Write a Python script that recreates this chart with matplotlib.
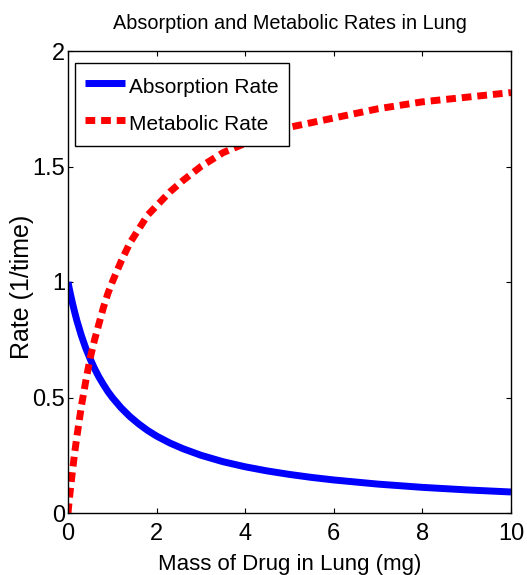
import matplotlib
matplotlib.use("Agg")
import matplotlib.pyplot as plt

plt.rcParams['font.family'] = ['Liberation Sans', 'DejaVu Sans']

mass = [0, 0.02, 0.05, 0.1, 0.15, 0.2, 0.3, 0.4, 0.5, 0.6, 0.7, 0.8, 0.9, 1.0, 1.2, 1.4, 1.6, 1.8,
        2.0, 2.3, 2.6, 3.0, 3.5, 4.0, 4.5, 5.0, 5.5, 6.0, 7.0, 8.0, 9.0, 10.0]
absorption = [1.0, 0.98, 0.952, 0.909, 0.87, 0.833, 0.769, 0.714, 0.667, 0.625, 0.588, 0.556, 0.526,
              0.50, 0.455, 0.417, 0.385, 0.357, 0.333, 0.303, 0.278, 0.25, 0.222, 0.20, 0.182,
              0.167, 0.154, 0.143, 0.125, 0.111, 0.10, 0.091]
metabolic = [0.0, 0.04, 0.095, 0.18, 0.26, 0.33, 0.46, 0.57, 0.67, 0.75, 0.82, 0.89, 0.95, 1.00, 1.09,
             1.17, 1.23, 1.29, 1.33, 1.39, 1.44, 1.50, 1.56, 1.60, 1.64, 1.67, 1.69, 1.71, 1.75,
             1.78, 1.80, 1.82]
xticks = [0, 2, 4, 6, 8, 10]
yticks = [0, 0.5, 1, 1.5, 2]
yticklabels = ['0', '0.5', '1', '1.5', '2']

fig = plt.figure(figsize=(5.27, 5.75), dpi=100)
L, R, T, B = 68, 511, 51, 513
ax = fig.add_axes([L/527, 1 - B/575, (R-L)/527, (B-T)/575])

ax.plot(mass, absorption, color='#0000ff', lw=5, label='Absorption Rate', solid_capstyle='butt')
ax.plot(mass, metabolic, color='#ff0000', lw=5, linestyle=(0, (1.4, 0.85)),
        label='Metabolic Rate', dash_capstyle='butt')

ax.set_xlim(0, 10)
ax.set_ylim(0, 2)
ax.set_xticks(xticks)
ax.set_yticks(yticks)
ax.set_yticklabels(yticklabels)
ax.tick_params(direction='in', top=True, right=True, labelsize=17, length=3.6, width=0.8)
ax.tick_params(axis='x', pad=7)
ax.tick_params(axis='y', pad=2)
for s in ax.spines.values():
    s.set_linewidth(1.0)

ax.set_title('Absorption and Metabolic Rates in Lung', fontsize=14.3, pad=15.5)
ax.set_xlabel('Mass of Drug in Lung (mg)', fontsize=16)
ax.xaxis.set_label_coords(0.5, -(570 - B) / (B - T))
ax.xaxis.label.set_va('baseline')
ax.set_ylabel('Rate (1/time)', fontsize=18)
ax.yaxis.set_label_coords((22 - L) / (R - L), (B - 287) / (B - T))
ax.yaxis.label.set_va('center')
ax.yaxis.label.set_ha('center')

leg = ax.legend(loc='upper left', bbox_to_anchor=((75 - L) / (R - L), (B - 63) / (B - T)),
                borderaxespad=0, fontsize=15, frameon=True, fancybox=False, edgecolor='black',
                framealpha=1, handlelength=1.9, handleheight=1.5, handletextpad=0.2,
                labelspacing=0.55, borderpad=0.5)
leg.get_frame().set_linewidth(1.0)

fig.savefig('out.png', dpi=100)
